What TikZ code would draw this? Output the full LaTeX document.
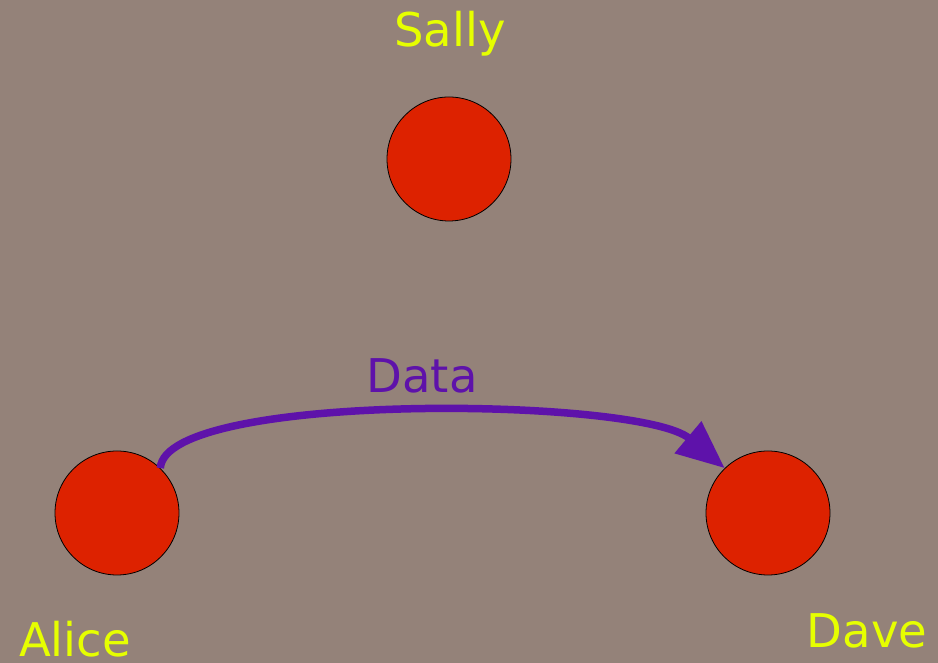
\documentclass[tikz,border=0pt]{standalone}
\usepackage{fontspec}
\setmainfont{DejaVu Sans}
\usetikzlibrary{arrows.meta}
\definecolor{bgcol}{RGB}{148,130,121}
\definecolor{nodered}{RGB}{221,34,0}
\definecolor{labyellow}{RGB}{230,255,0}
\definecolor{flowpurple}{RGB}{94,18,170}
\begin{document}
\begin{tikzpicture}[x=1pt,y=1pt,
  person/.style={circle,draw=black,line width=0.8pt,fill=nodered,minimum size=124pt,inner sep=0pt},
  personlabel/.style={text=labyellow,anchor=base,inner sep=0pt,font=\fontsize{46.5}{50}\selectfont},
  flow/.style={draw=flowpurple,line width=7.5pt,-{Triangle[length=48pt,width=40pt]}}]
\fill[bgcol] (0,0) rectangle (938,663);
\useasboundingbox (0,0) rectangle (938,663);
\node[person] (sally) at (449,504) {};
\node[person] (alice) at (117,150) {};
\node[person] (dave)  at (768,150) {};
\node[personlabel] (sallyname) at (450,616) {Sally};
\node[personlabel] (alicename) at (75,6) {Alice};
\node[personlabel] (davename)  at (867,15) {Dave};
\draw[flow] (alice.46) .. controls (165,272) and (640,266) .. (dave.134);
\node[personlabel,text=flowpurple] (data) at (422,270) {Data};
\end{tikzpicture}
\end{document}
